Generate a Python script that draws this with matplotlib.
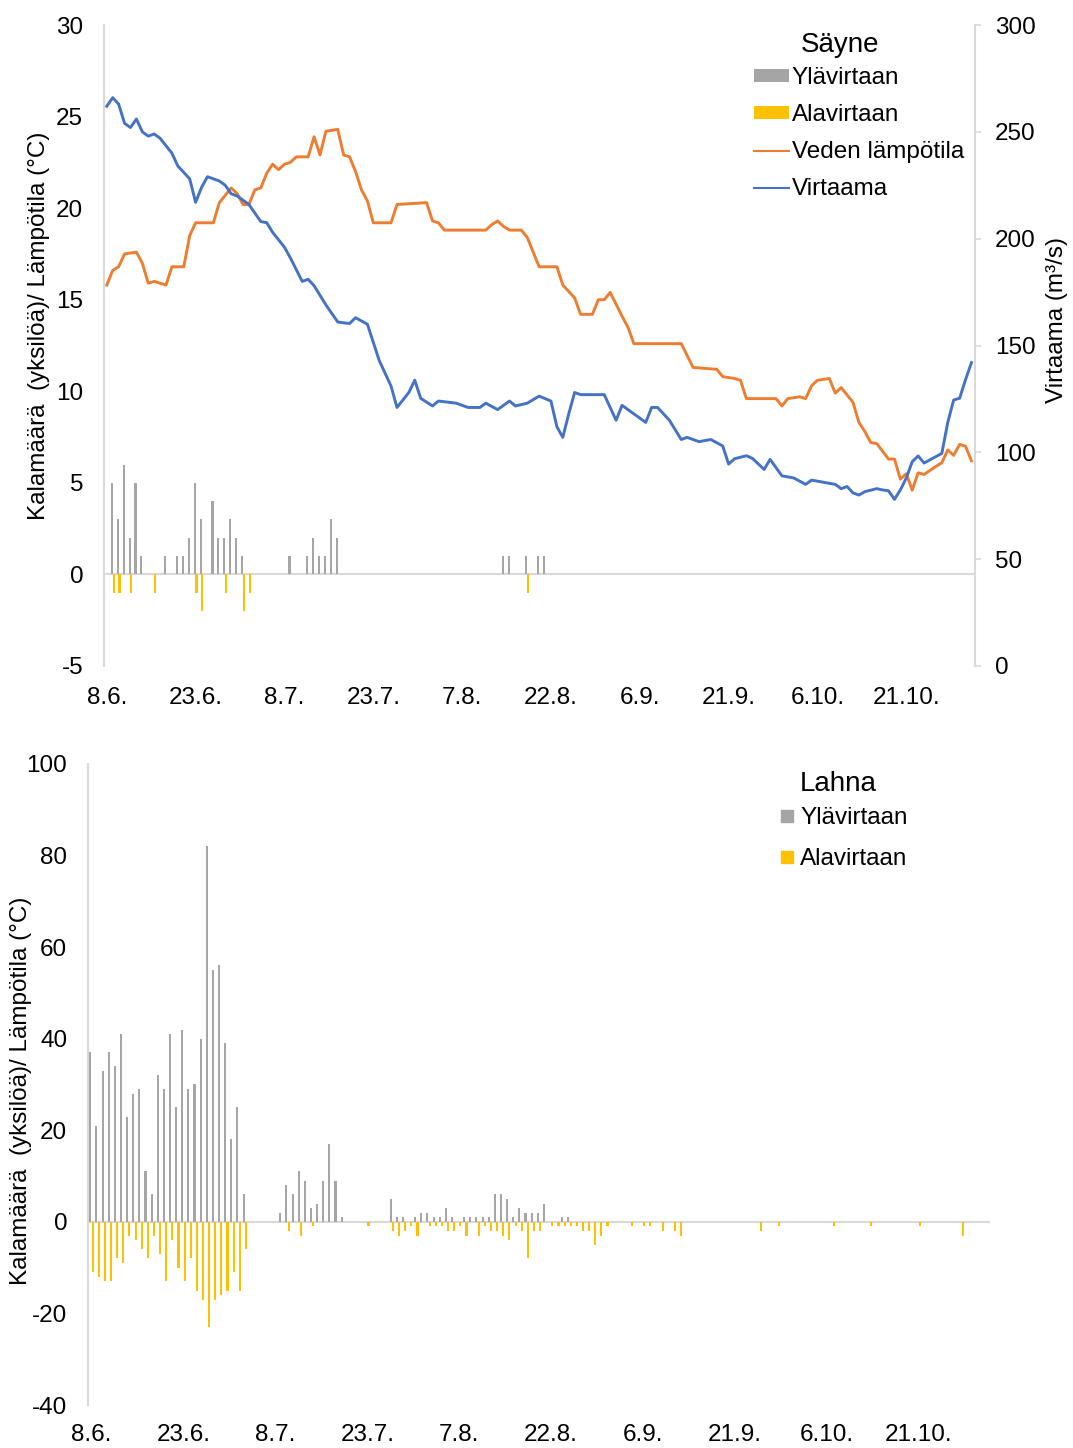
import numpy as np
import matplotlib.pyplot as plt
from matplotlib.patches import Patch
from matplotlib.lines import Line2D

plt.rcParams['font.family'] = ['Liberation Sans', 'DejaVu Sans']
plt.rcParams['axes.unicode_minus'] = False

# date labels, one every 15 days starting 8.6.
date_labels = ['8.6.', '23.6.', '8.7.', '23.7.', '7.8.', '22.8.', '6.9.', '21.9.', '6.10.', '21.10.']

# --- Säyne (top) ---
sayne_up_days = [1, 2, 3, 4, 5, 6, 10, 12, 13, 14, 15, 16, 18, 19, 20, 21, 22, 23,
                 31, 34, 35, 36, 37, 38, 39, 67, 68, 71, 73, 74]
sayne_up = [5, 3, 6, 2, 5, 1, 1, 1, 1, 2, 5, 3, 4, 2, 2, 3, 2, 1,
            1, 1, 2, 1, 1, 3, 2, 1, 1, 1, 1, 1]
sayne_down_days = [1, 2, 4, 8, 15, 16, 20, 23, 24, 71]
sayne_down = [-1, -1, -1, -1, -1, -2, -1, -2, -1, -1]

temp_days = [0, 1, 2, 3, 5, 6, 7, 8, 10, 11, 13, 14, 15, 18, 19, 21, 22, 23, 24, 25,
             26, 27, 28, 29, 30, 31, 32, 34, 35, 36, 37, 39, 40, 41, 42, 43, 44, 45, 48,
             49, 54, 55, 56, 57, 64, 65, 66, 67, 68, 70, 71, 73, 76, 77, 79, 80, 82, 83,
             84, 85, 87, 88, 89, 97, 99, 103, 104, 106, 107, 108, 113, 114, 115, 117,
             118, 119, 120, 122, 123, 124, 126, 127, 128, 129, 130, 132, 133, 134, 135,
             136, 137, 138, 140, 141, 142, 143, 144, 145, 146]
temp = [15.8, 16.6, 16.8, 17.5, 17.6, 17.0, 15.9, 16.0, 15.8, 16.8, 16.8, 18.5, 19.2,
        19.2, 20.3, 21.1, 20.8, 20.2, 20.2, 21.0, 21.1, 21.9, 22.4, 22.1, 22.4, 22.5,
        22.8, 22.8, 23.9, 22.9, 24.2, 24.3, 22.9, 22.8, 22.0, 21.0, 20.4, 19.2, 19.2,
        20.2, 20.3, 19.3, 19.2, 18.8, 18.8, 19.1, 19.3, 19.0, 18.8, 18.8, 18.4, 16.8,
        16.8, 15.8, 15.1, 14.2, 14.2, 15.0, 15.0, 15.4, 14.1, 13.5, 12.6, 12.6, 11.3,
        11.2, 10.8, 10.7, 10.6, 9.6, 9.6, 9.2, 9.6, 9.7, 9.6, 10.3, 10.6, 10.7, 9.9,
        10.2, 9.4, 8.3, 7.8, 7.2, 7.15, 6.3, 6.3, 5.2, 5.5, 4.6, 5.55, 5.46, 5.9, 6.1,
        6.8, 6.5, 7.1, 7.0, 6.2]

flow_days = [0, 1, 2, 3, 4, 5, 6, 7, 8, 9, 11, 12, 14, 15, 16, 17, 19, 20, 21, 22, 24,
             25, 26, 27, 28, 30, 31, 33, 34, 35, 37, 39, 40, 41, 42, 44, 46, 48, 49, 51,
             52, 53, 55, 56, 59, 61, 63, 64, 66, 68, 69, 71, 73, 75, 76, 77, 78, 79, 80,
             84, 85, 86, 87, 88, 90, 91, 92, 93, 95, 97, 98, 100, 102, 104, 105, 106,
             108, 109, 111, 112, 114, 116, 118, 119, 121, 123, 124, 125, 126, 127, 128,
             130, 131, 132, 133, 134, 135, 136, 137, 138, 140, 141, 142, 143, 144, 145,
             146]
flow = [262, 266, 263, 254, 252, 256, 250, 248, 249, 247, 240, 234, 228, 217, 224, 229,
        227, 225, 221, 220, 216, 212, 208, 207.5, 203, 196, 191, 180, 181, 178, 169, 161,
        160.6, 160.3, 163, 160, 143, 131, 121, 128, 133.8, 125.3, 121.7, 124, 123, 121,
        121, 123, 120, 124, 121.7, 123, 126.3, 124, 112, 107, 118, 128, 127, 127, 121,
        115, 122, 120, 116, 114, 121, 121, 115, 106, 107, 105, 106, 103, 94.5, 97, 98.4,
        97.2, 92, 96.7, 89, 88, 85, 87, 86, 85, 83, 84, 81, 80, 81.6, 83, 82.4, 82, 78,
        82.4, 88, 95.6, 98.3, 95, 98, 99.5, 114, 124.5, 125.3, 134, 142]

# --- Lahna (bottom) ---
lahna_up_days = list(range(0, 26)) + [31, 32, 33, 34, 35, 36, 37, 38, 39, 40, 41,
                                      49, 50, 51, 53, 54, 55, 56, 57, 58, 59, 61, 62,
                                      63, 64, 65, 66, 67, 68, 69, 70, 71, 72, 73, 74,
                                      77, 78]
lahna_up = [37, 21, 33, 37, 34, 41, 23, 28, 29, 11, 6, 32, 29, 41, 25, 42, 29, 30, 40,
            82, 55, 56, 39, 18, 25, 6,
            2, 8, 6, 11, 9, 3, 4, 9, 17, 9, 1,
            5, 1, 1, 1, 2, 2, 1, 1, 3, 1, 1, 1, 1, 1, 1, 6, 6, 5, 1, 3, 2, 2, 2, 4, 1, 1]
lahna_down_days = list(range(0, 26)) + [32, 34, 36, 45, 49, 50, 51, 52, 53, 55, 56, 57,
                                        58, 59, 60, 61, 63, 64, 65, 66, 67, 68, 69, 70,
                                        71, 72, 73, 75, 76, 77, 78, 79, 80, 81, 82, 83,
                                        84, 88, 90, 91, 93, 95, 96, 109, 112, 121, 127,
                                        135, 142]
lahna_down = [-11, -12, -13, -13, -8, -9, -3, -4, -6, -8, -3, -7, -13, -4, -10, -13, -8,
              -15, -17, -23, -17, -16, -15, -11, -15, -6,
              -2, -3, -1, -1, -2, -3, -2, -1, -3, -1, -1, -1, -2, -2, -1, -3, -3, -1, -2,
              -2, -3, -4, -1, -2, -8, -2, -2, -1, -1, -1, -1, -1, -2, -2, -5, -3, -1, -1,
              -1, -1, -2, -2, -3, -2, -1, -1, -1, -1, -3]

GRAY = '#A5A5A5'
YELLOW = '#FFC000'
ORANGE = '#ED7D31'
BLUE = '#4472C4'
AXIS = '#D9D9D9'
FS = 17.5

W, H = 1073, 1448
fig = plt.figure(figsize=(W / 100, H / 100), dpi=100)

def fx(px):
    return px / W

def fy(py):
    return 1 - py / H

# top chart
ax1 = fig.add_axes([fx(104), fy(666), fx(975 - 104), (666 - 25) / H])
ax1.bar(np.array(sayne_up_days) - 0.15, sayne_up, width=0.36, color=GRAY, lw=0)
ax1.bar(np.array(sayne_down_days) + 0.15, sayne_down, width=0.36, color=YELLOW, lw=0)
ax1.plot(temp_days, temp, color=ORANGE, lw=2.1)
ax1.axhline(0, color=AXIS, lw=1.5, zorder=0)
ax1.set_xlim(-0.47, 146.6)
ax1.set_ylim(-5, 30)
ax1.set_yticks(range(-5, 31, 5))
ax1.set_xticks(range(0, 136, 15))
ax1.set_xticklabels(date_labels)
ax1.tick_params(axis='y', length=0, pad=15, labelsize=FS)
ax1.tick_params(axis='x', length=0, pad=15, labelsize=FS)
for s in ['top', 'bottom', 'right']:
    ax1.spines[s].set_visible(False)
ax1.spines['left'].set_color(AXIS)
ax1.spines['left'].set_linewidth(1.5)
ax1.set_ylabel('Kalamäärä  (yksilöä)/ Lämpötila (°C)', fontsize=FS)
ax1.yaxis.set_label_coords(-0.062, 0.53)

ax2 = ax1.twinx()
ax2.plot(flow_days, flow, color=BLUE, lw=2.1)
ax2.set_ylim(0, 300)
ax2.set_yticks(range(0, 301, 50))
ax2.tick_params(axis='y', length=4.5, width=1.2, color=AXIS, pad=10, labelsize=FS)
for s in ['top', 'bottom', 'left']:
    ax2.spines[s].set_visible(False)
ax2.spines['right'].set_color(AXIS)
ax2.spines['right'].set_linewidth(1.5)
ax2.set_ylabel('Virtaama (m³/s)', fontsize=FS)
ax2.yaxis.set_label_coords(1.081, 0.54)

handles1 = [Patch(facecolor=GRAY), Patch(facecolor=YELLOW),
            Line2D([], [], color=ORANGE, lw=1.5), Line2D([], [], color=BLUE, lw=1.5)]
labels1 = ['Ylävirtaan', 'Alavirtaan', 'Veden lämpötila', 'Virtaama']
fig.legend(handles1, labels1, loc='upper left', bbox_to_anchor=(fx(754), fy(67)),
           frameon=False, borderpad=0, borderaxespad=0, handlelength=1.45,
           handleheight=0.42, handletextpad=0.1, labelspacing=0.62, fontsize=FS)
fig.text(fx(840), fy(45), 'Säyne', ha='center', va='center', fontsize=20)

# bottom chart
ax3 = fig.add_axes([fx(88), fy(1405), fx(990 - 88), (1405 - 764) / H])
ax3.bar(np.array(lahna_up_days) - 0.19, lahna_up, width=0.34, color=GRAY, lw=0)
ax3.bar(np.array(lahna_down_days) + 0.19, lahna_down, width=0.34, color=YELLOW, lw=0)
ax3.axhline(0, color=AXIS, lw=1.5, zorder=0)
ax3.set_xlim(-0.57, 146.6)
ax3.set_ylim(-40, 100)
ax3.set_yticks(range(-40, 101, 20))
ax3.set_xticks(range(0, 136, 15))
ax3.set_xticklabels(date_labels)
ax3.tick_params(axis='y', length=0, pad=15, labelsize=FS)
ax3.tick_params(axis='x', length=0, pad=14, labelsize=FS)
for s in ['top', 'bottom', 'right']:
    ax3.spines[s].set_visible(False)
ax3.spines['left'].set_color(AXIS)
ax3.spines['left'].set_linewidth(1.5)
ax3.set_ylabel('Kalamäärä  (yksilöä)/ Lämpötila (°C)', fontsize=FS)
ax3.yaxis.set_label_coords(-0.062, 0.49)

handles2 = [Line2D([], [], color=GRAY, marker='s', ls='none', markersize=8),
            Line2D([], [], color=YELLOW, marker='s', ls='none', markersize=8)]
fig.legend(handles2, ['Ylävirtaan', 'Alavirtaan'], loc='upper left',
           bbox_to_anchor=(fx(776), fy(807)), frameon=False, borderpad=0,
           borderaxespad=0, handlelength=0.9, handletextpad=0.1, labelspacing=0.8,
           fontsize=FS)
fig.text(fx(838), fy(784), 'Lahna', ha='center', va='center', fontsize=20)

fig.savefig('out.png', dpi=100)
